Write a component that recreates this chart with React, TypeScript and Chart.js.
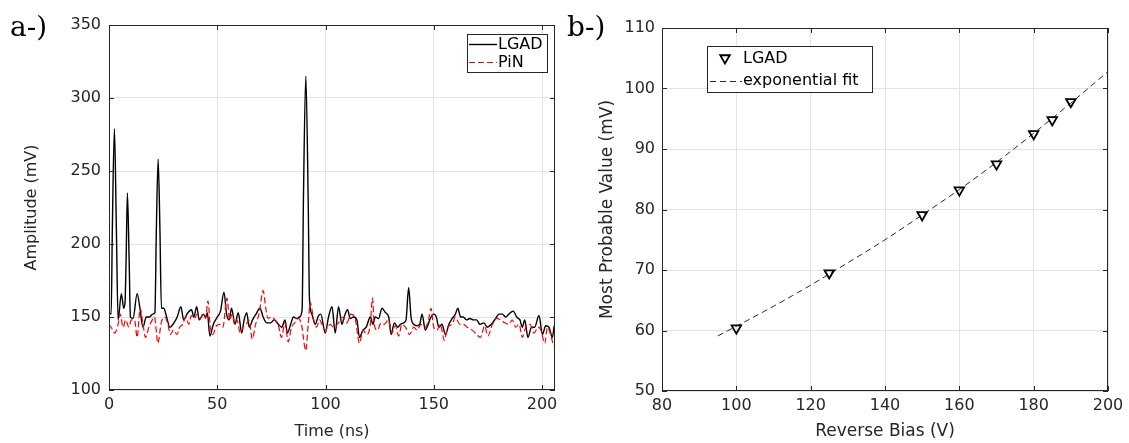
import React, { useEffect, useRef } from 'react';
import { Chart, registerables } from 'chart.js';
Chart.register(...registerables);

const FONT = "'DejaVu Sans', sans-serif";
const SERIF = "'DejaVu Serif', serif";
const TEXT = '#262626';
const GRID = '#e3e3e3';

// ---- panel a: waveforms ----
const lgadTime = [
  0, 1.0, 1.55, 2.5, 3.4, 4.2, 5.7, 6.8, 7.4, 7.9,
  8.5, 9.3, 9.9, 11.1, 13, 14.2, 15.7, 17.2, 18.7, 20.2,
  21.2, 21.9, 22.7, 23.5, 24.2, 25.3, 26.6, 28.1, 30, 31.5,
  33.2, 34.5, 36, 38.1, 39.2, 40.5, 41.7, 43.5, 44.8, 45.4,
  46.6, 48.2, 50, 51.5, 53.1, 54.3, 55.5, 56.6, 58.2, 59.7,
  61.3, 62.4, 63.6, 64.8, 66.3, 67.9, 69.7, 71.2, 72.8, 74.7,
  76.2, 78.2, 79.8, 81.3, 82.4, 83.9, 85.2, 86.7, 88, 89.2,
  89.8, 90.9, 92.0, 92.6, 93.7, 95.2, 96.8, 97.8, 99.9, 101.4,
  103, 104.5, 106, 107.6, 108.6, 110.2, 111.4, 113, 114.5, 115.7,
  117.3, 118.8, 120.7, 121.9, 123, 124.5, 126.1, 127.7, 129.2, 130.3,
  131.8, 133.4, 134.6, 136.2, 137.2, 138.4, 139.5, 140.7, 142.3, 143.5,
  144.6, 146.1, 147.2, 148.4, 150, 151.2, 152.3, 153.8, 155.4, 157,
  158.5, 160, 161.1, 162.4, 163.6, 165.2, 166.7, 168.3, 169.8, 171.3,
  173.2, 174.7, 176.6, 178.6, 180.1, 181.7, 183.2, 184.7, 186.7, 188.3,
  189.8, 190.9, 192, 193.5, 195.1, 196.6, 198.6, 200.2, 201.7, 203.2,
  204.8, 205.6,
];
const lgadAmp = [
  153, 152, 211, 279, 211, 148, 166, 156, 160, 189,
  235, 189, 150, 149, 166, 157, 143, 150, 150, 152,
  153, 212, 258, 212, 156, 156, 150, 143, 146, 150,
  157, 148, 152, 155, 150, 157, 148, 152, 150, 153,
  137, 145, 150, 154, 167, 152, 148, 156, 145, 153,
  139, 148, 153, 143, 148, 152, 156, 150, 146, 146,
  148, 145, 143, 148, 139, 145, 150, 149, 150, 155,
  230, 315, 230, 162, 152, 145, 151, 152, 139, 150,
  157, 139, 157, 145, 150, 155, 149, 150, 148, 136,
  141, 143, 150, 145, 150, 149, 156, 153, 150, 138,
  146, 143, 145, 146, 148, 170, 150, 145, 144, 145,
  152, 141, 144, 149, 152, 150, 143, 145, 138, 145,
  149, 152, 156, 150, 150, 148, 149, 148, 148, 145,
  146, 143, 145, 149, 152, 152, 150, 152, 154, 150,
  148, 143, 148, 136, 143, 143, 151, 138, 144, 143,
  136, 144,
];
const pinTime = [
  0, 1, 2.6, 4.2, 5.2, 6.5, 7.7, 9.2, 10.3, 11.8,
  13, 14.4, 15.7, 16.9, 18.4, 20, 21, 22.6, 24.1, 25.7,
  27.2, 28.3, 29.8, 31.4, 32.6, 34.1, 35.4, 36.9, 38, 39.5,
  40.6, 42.2, 43.7, 44.6, 45.7, 46.8, 48, 49.6, 51.4, 52.6,
  54.5, 55.7, 56.9, 58, 59.1, 60.6, 61.9, 63.4, 64.6, 66.2,
  67.7, 69.3, 71.2, 72.4, 73.5, 75, 76.6, 78.1, 79.7, 81.2,
  82.8, 84.3, 85.8, 87.4, 88.9, 90.9, 92, 93, 94.3, 95.8,
  97.3, 98.8, 99.9, 102.2, 103.7, 106, 107.6, 109.9, 111.7, 113.7,
  115.7, 117.3, 119.1, 120.7, 121.7, 122.5, 124, 125.6, 127.1, 129.1,
  130.7, 132.2, 133.8, 135.3, 136.9, 138.9, 140.7, 142.3, 144.1, 146.1,
  147.6, 148.7, 150, 151.5, 153, 154.9, 156.4, 158.5, 160, 162,
  163.6, 165.4, 167.8, 169.8, 171.6, 173.5, 175, 177.1, 179, 180.9,
  182.8, 184.7, 186.2, 187.9, 189.4, 190.9, 192.5, 194.5, 196.3, 198.2,
  199.5, 201.3, 202.5, 204, 205.3,
];
const pinAmp = [
  145, 143, 139, 145, 152, 143, 148, 143, 148, 148,
  136, 156, 145, 136, 143, 148, 150, 132, 146, 150,
  145, 138, 141, 138, 143, 145, 150, 145, 151, 149,
  152, 149, 152, 149, 161, 143, 138, 144, 145, 143,
  163, 148, 152, 145, 148, 139, 143, 145, 148, 135,
  145, 152, 168, 156, 149, 150, 148, 145, 136, 146,
  133, 143, 146, 149, 145, 127, 145, 160, 150, 143,
  148, 143, 141, 145, 143, 146, 150, 146, 152, 149,
  132, 141, 138, 145, 163, 145, 141, 146, 145, 148,
  139, 144, 137, 145, 143, 138, 143, 141, 145, 143,
  148, 156, 143, 141, 145, 134, 143, 145, 150, 145,
  145, 143, 141, 138, 136, 144, 137, 145, 149, 148,
  146, 145, 148, 143, 145, 136, 143, 145, 139, 143,
  141, 132, 143, 138, 130,
];

// ---- panel b: MPV vs bias ----
const biasV = [100, 125, 150, 160, 170, 180, 185, 190];
const mpvMV = [60.4, 69.5, 79.1, 83.2, 87.5, 92.5, 94.8, 97.8];
const fitV = [95, 100, 110, 120, 130, 140, 150, 160, 170, 180, 190, 200];
const fitMV = [59.1, 60.7, 64.0, 67.5, 71.2, 75.0, 79.1, 83.3, 87.8, 92.6, 97.6, 102.8];

const pts = (xs: number[], ys: number[]) => xs.map((x, i) => ({ x, y: ys[i] }));

function downTriangle(ctx: CanvasRenderingContext2D, x: number, y: number, r: number) {
  ctx.beginPath();
  let rad = Math.PI;
  ctx.moveTo(x + Math.sin(rad) * r, y - Math.cos(rad) * r);
  rad += (2 * Math.PI) / 3;
  ctx.lineTo(x + Math.sin(rad) * r, y - Math.cos(rad) * r);
  rad += (2 * Math.PI) / 3;
  ctx.lineTo(x + Math.sin(rad) * r, y - Math.cos(rad) * r);
  ctx.closePath();
  ctx.stroke();
}

function makeFrame(label: string, lx: number, ly: number, legend: (ctx: CanvasRenderingContext2D) => void) {
  return {
    id: 'frame',
    afterDraw(chart: any) {
      const { ctx, chartArea: a, scales } = chart;
      ctx.save();
      ctx.strokeStyle = TEXT;
      ctx.lineWidth = 1;
      ctx.setLineDash([]);
      ctx.strokeRect(a.left + 0.5, a.top + 0.5, a.right - a.left - 1, a.bottom - a.top - 1);
      const L = 5;
      ctx.beginPath();
      scales.x.ticks.forEach((t: any) => {
        const px = Math.round(scales.x.getPixelForValue(t.value)) + 0.5;
        ctx.moveTo(px, a.bottom);
        ctx.lineTo(px, a.bottom - L);
        ctx.moveTo(px, a.top);
        ctx.lineTo(px, a.top + L);
      });
      scales.y.ticks.forEach((t: any) => {
        const py = Math.round(scales.y.getPixelForValue(t.value)) + 0.5;
        ctx.moveTo(a.left, py);
        ctx.lineTo(a.left + L, py);
        ctx.moveTo(a.right, py);
        ctx.lineTo(a.right - L, py);
      });
      ctx.stroke();
      ctx.fillStyle = '#000';
      ctx.font = `28px ${SERIF}`;
      ctx.textAlign = 'left';
      ctx.textBaseline = 'alphabetic';
      ctx.fillText(label, lx, ly);
      legend(ctx);
      ctx.restore();
    },
  };
}

function legendA(ctx: CanvasRenderingContext2D) {
  ctx.fillStyle = '#fff';
  ctx.fillRect(467, 34, 80, 38);
  ctx.strokeStyle = TEXT;
  ctx.lineWidth = 1;
  ctx.strokeRect(467.5, 34.5, 80, 38);
  ctx.beginPath();
  ctx.strokeStyle = '#000';
  ctx.lineWidth = 1.4;
  ctx.moveTo(469, 44.5);
  ctx.lineTo(497, 44.5);
  ctx.stroke();
  ctx.beginPath();
  ctx.strokeStyle = '#ff0000';
  ctx.lineWidth = 1.2;
  ctx.setLineDash([6, 3]);
  ctx.moveTo(469, 62.5);
  ctx.lineTo(497, 62.5);
  ctx.stroke();
  ctx.setLineDash([]);
  ctx.fillStyle = '#000';
  ctx.font = `16px ${FONT}`;
  ctx.textBaseline = 'middle';
  ctx.textAlign = 'left';
  ctx.fillText('LGAD', 498, 45);
  ctx.fillText('PiN', 498, 63);
}

function legendB(ctx: CanvasRenderingContext2D) {
  ctx.fillStyle = '#fff';
  ctx.fillRect(147, 46, 165, 46);
  ctx.strokeStyle = TEXT;
  ctx.lineWidth = 1;
  ctx.strokeRect(147.5, 46.5, 165, 46);
  ctx.strokeStyle = '#000';
  ctx.lineWidth = 1.8;
  downTriangle(ctx, 165, 58, 5.5);
  ctx.beginPath();
  ctx.strokeStyle = TEXT;
  ctx.lineWidth = 1;
  ctx.setLineDash([6, 4]);
  ctx.moveTo(150, 81.5);
  ctx.lineTo(182, 81.5);
  ctx.stroke();
  ctx.setLineDash([]);
  ctx.fillStyle = '#000';
  ctx.font = `16px ${FONT}`;
  ctx.textBaseline = 'middle';
  ctx.textAlign = 'left';
  ctx.fillText('LGAD', 183, 59);
  ctx.fillText('exponential fit', 183, 81);
}

function axisCommon(min: number, max: number, step: number, title: string, titleSize: number, pad: any, tickPad: number, fitSize: (s: any) => void) {
  return {
    type: 'linear',
    min,
    max,
    afterFit: (s: any) => {
      fitSize(s);
      s.paddingLeft = 0;
      s.paddingRight = 0;
      s.paddingTop = 0;
      s.paddingBottom = 0;
    },
    ticks: {
      stepSize: step,
      includeBounds: false,
      color: TEXT,
      padding: tickPad,
      maxRotation: 0,
      font: { family: FONT, size: 16 },
    },
    grid: { color: GRID, drawTicks: false, lineWidth: 1 },
    border: { display: false },
    title: { display: true, text: title, color: TEXT, font: { family: FONT, size: titleSize }, padding: pad },
  };
}

function configA(): any {
  return {
    type: 'line',
    data: {
      datasets: [
        {
          label: 'LGAD',
          data: pts(lgadTime, lgadAmp),
          borderColor: '#000',
          borderWidth: 1.4,
          pointRadius: 0,
          cubicInterpolationMode: 'monotone',
          fill: false,
          order: 1,
        },
        {
          label: 'PiN',
          data: pts(pinTime, pinAmp),
          borderColor: '#ff0000',
          borderWidth: 1.2,
          borderDash: [6, 3],
          pointRadius: 0,
          cubicInterpolationMode: 'monotone',
          fill: false,
          order: 0,
        },
      ],
    },
    options: {
      animation: false,
      responsive: false,
      maintainAspectRatio: false,
      devicePixelRatio: 1,
      layout: { padding: { top: 25, right: 5, left: 0, bottom: 0 } },
      plugins: { legend: { display: false }, tooltip: { enabled: false } },
      scales: {
        x: axisCommon(0, 206, 50, 'Time (ns)', 16, { top: 0, bottom: 2 }, 5, (s: any) => { s.height = 53; }),
        y: axisCommon(100, 350, 50, 'Amplitude (mV)', 16, { top: 22, bottom: 0 }, 8, (s: any) => { s.width = 109; }),
      },
    },
    plugins: [makeFrame('a-)', 10, 36, legendA)],
  };
}

function configB(): any {
  return {
    type: 'line',
    data: {
      datasets: [
        {
          label: 'LGAD',
          data: pts(biasV, mpvMV),
          showLine: false,
          borderColor: '#000',
          backgroundColor: 'rgba(0,0,0,0)',
          pointStyle: 'triangle',
          pointRotation: 180,
          pointRadius: 5.5,
          pointBorderWidth: 1.8,
          pointBorderColor: '#000',
          pointBackgroundColor: 'rgba(0,0,0,0)',
          order: 0,
        },
        {
          label: 'exponential fit',
          data: pts(fitV, fitMV),
          borderColor: TEXT,
          borderWidth: 1,
          borderDash: [6, 4],
          pointRadius: 0,
          cubicInterpolationMode: 'monotone',
          fill: false,
          order: 1,
        },
      ],
    },
    options: {
      animation: false,
      responsive: false,
      maintainAspectRatio: false,
      devicePixelRatio: 1,
      layout: { padding: { top: 28, right: 21, left: 0, bottom: 0 } },
      plugins: { legend: { display: false }, tooltip: { enabled: false } },
      scales: {
        x: axisCommon(80, 200, 20, 'Reverse Bias (V)', 17, { top: 0, bottom: 1 }, 5, (s: any) => { s.height = 52; }),
        y: axisCommon(50, 110, 10, 'Most Probable Value (mV)', 17, { top: 37, bottom: 0 }, 7, (s: any) => { s.width = 102; }),
      },
    },
    plugins: [makeFrame('b-)', 7, 36, legendB)],
  };
}

function Panel({ make, left, width }: { make: () => any; left: number; width: number }) {
  const ref = useRef<HTMLCanvasElement>(null);
  useEffect(() => {
    const chart = new Chart(ref.current as HTMLCanvasElement, make());
    return () => chart.destroy();
  }, []);
  return (
    <canvas
      ref={ref}
      width={width}
      height={443}
      style={{ position: 'absolute', left, top: 0, width, height: 443, display: 'block' }}
    />
  );
}

export default function App() {
  return (
    <div style={{ position: 'absolute', left: 0, top: 0, width: 1129, height: 443, background: '#fff', overflow: 'hidden' }}>
      <Panel make={configA} left={0} width={560} />
      <Panel make={configB} left={560} width={569} />
    </div>
  );
}
